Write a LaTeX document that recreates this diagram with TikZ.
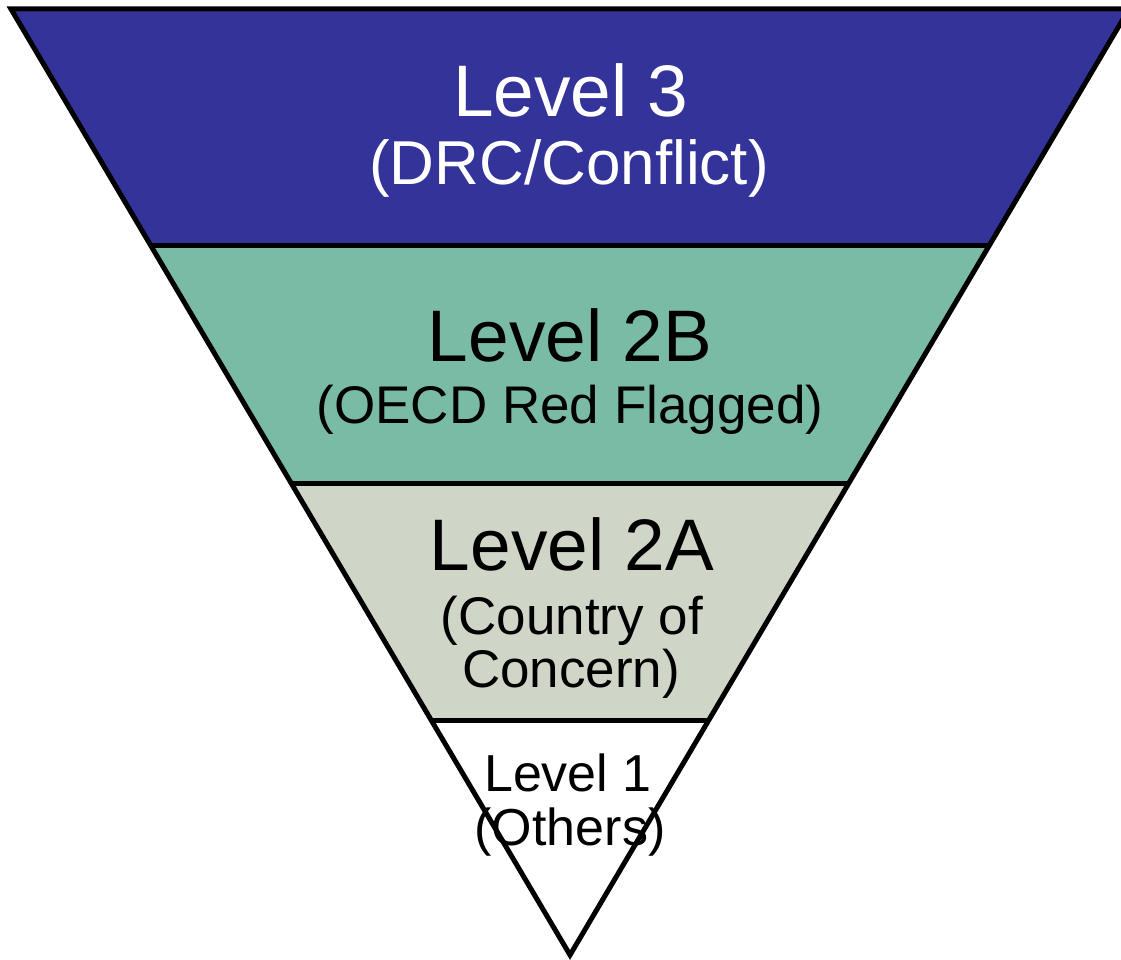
\documentclass[tikz,border=0pt]{standalone}
\usepackage{fontspec}
\setmainfont{Liberation Sans}
\usetikzlibrary{calc}
\definecolor{lvthree}{HTML}{333399}
\definecolor{lvtwob}{HTML}{7ABBA6}
\definecolor{lvtwoa}{HTML}{CFD5C7}
\tikzset{
  edge/.style={line width=5pt, line join=miter, draw=black},
  bigtxt/.style={anchor=base, inner sep=0pt, font=\fontsize{73}{73}\selectfont},
  midtxt/.style={anchor=base, inner sep=0pt, font=\fontsize{62}{62}\selectfont},
  smalltxt/.style={anchor=base, inner sep=0pt, font=\fontsize{53}{53}\selectfont},
  tinytxt/.style={anchor=base, inner sep=0pt, font=\fontsize{52}{52}\selectfont},
}
\begin{document}
\begin{tikzpicture}[x=1pt,y=-1pt]
\useasboundingbox (0,0) rectangle (1121,960);
\coordinate (A) at (11,9);
\coordinate (B) at (1129,9);
\coordinate (C) at (570,955);
\coordinate (L1) at ($(A)!0.2495!(C)$);
\coordinate (R1) at ($(B)!0.2495!(C)$);
\coordinate (L2) at ($(A)!0.5011!(C)$);
\coordinate (R2) at ($(B)!0.5011!(C)$);
\coordinate (L3) at ($(A)!0.7516!(C)$);
\coordinate (R3) at ($(B)!0.7516!(C)$);
% fills
\fill[lvthree] (A) -- (B) -- (R1) -- (L1) -- cycle;
\fill[lvtwob] (L1) -- (R1) -- (R2) -- (L2) -- cycle;
\fill[lvtwoa] (L2) -- (R2) -- (R3) -- (L3) -- cycle;
\fill[white] (L3) -- (R3) -- (C) -- cycle;
% texts
\node[bigtxt, text=white] (t3a) at (571,117) {Level 3};
\node[midtxt, text=white] (t3b) at (569,185) {(DRC/Conflict)};
\node[bigtxt] (t2ba) at (570,361) {Level 2B};
\node[smalltxt] (t2bb) at (570,423) {(OECD Red Flagged)};
\node[bigtxt] (t2aa) at (572,570) {Level 2A};
\node[smalltxt] (t2ab) at (572,634) {(Country of};
\node[smalltxt] (t2ac) at (571,687) {Concern)};
\node[tinytxt] (t1a) at (568,791) {Level 1};
\node[tinytxt] (t1b) at (570,845) {(Others)};
% outlines
\draw[edge] (L1) -- (R1);
\draw[edge] (L2) -- (R2);
\draw[edge] (L3) -- (R3);
\draw[edge] (A) -- (B) -- (C) -- cycle;
\end{tikzpicture}
\end{document}
